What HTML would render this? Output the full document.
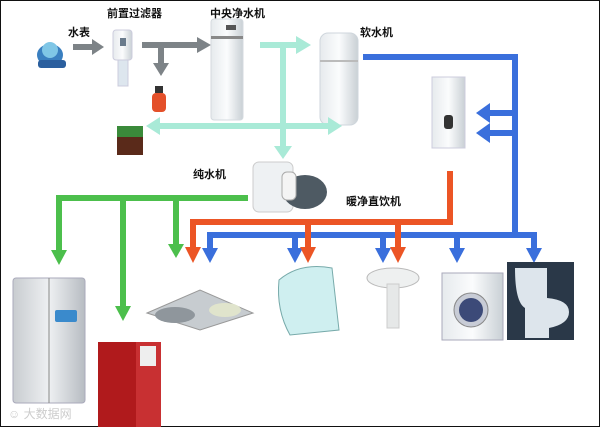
<!DOCTYPE html>
<html><head><meta charset="utf-8"><style>
html,body{margin:0;padding:0;background:#fff}
svg{display:block}
text{font-family:"Liberation Sans","Noto Sans CJK SC",sans-serif;font-size:11px;fill:#111;font-weight:bold}
</style></head><body>
<svg width="600" height="427" viewBox="0 0 600 427" xmlns="http://www.w3.org/2000/svg">
<defs>
<linearGradient id="wg" x1="0" x2="1"><stop offset="0" stop-color="#e6eaed"/><stop offset=".5" stop-color="#fbfcfd"/><stop offset="1" stop-color="#c9d0d5"/></linearGradient>
<linearGradient id="fg" x1="0" x2="1"><stop offset="0" stop-color="#c8ccd0"/><stop offset=".5" stop-color="#eef0f2"/><stop offset="1" stop-color="#b7bcc2"/></linearGradient>
<g id="bd"><rect x="-3" y="235" width="6" height="14"/><polygon points="-8,248 8,248 0,263"/></g>
<g id="rd"><rect x="-3" y="222" width="6" height="26"/><polygon points="-8,247 8,247 0,263"/></g>
</defs>
<rect x="0" y="0" width="600" height="427" fill="#fff" stroke="#111" stroke-width="2"/>

<text x="68" y="36">水表</text>
<text x="107" y="17">前置过滤器</text>
<text x="210" y="17">中央净水机</text>
<text x="360" y="36">软水机</text>
<text x="193" y="178">纯水机</text>
<text x="346" y="205">暖净直饮机</text>

<ellipse cx="50" cy="55" rx="13" ry="11" fill="#3a7fc0"/>
<circle cx="50" cy="50" r="8" fill="#7fc6e6"/>
<rect x="38" y="60" width="28" height="8" rx="3" fill="#2b5f9e"/>

<g fill="#7d8387">
<rect x="73" y="44" width="20" height="6"/><polygon points="92,39 104,47 92,55"/>
<rect x="142" y="42" width="56" height="6"/><polygon points="197,37 211,45 197,53"/>
<rect x="158" y="44" width="6" height="20"/><polygon points="153,63 169,63 161,76"/>
</g>
<rect x="113" y="30" width="19" height="30" rx="3" fill="url(#wg)" stroke="#ccd"/>
<rect x="118" y="60" width="10" height="26" fill="#dde6ee" stroke="#ccd"/>
<rect x="120" y="38" width="6" height="8" fill="#6a7b8c"/>
<rect x="152" y="93" width="14" height="19" rx="4" fill="#e4502a"/>
<rect x="155" y="86" width="8" height="7" fill="#333"/>

<rect x="211" y="19" width="32" height="101" rx="3" fill="url(#wg)" stroke="#d4dadf"/>
<rect x="211" y="36" width="32" height="3" fill="#888"/>
<rect x="226" y="25" width="10" height="5" fill="#555"/>
<rect x="320" y="33" width="38" height="92" rx="8" fill="url(#wg)" stroke="#cfd6dc"/>
<rect x="320" y="60" width="38" height="2" fill="#bbb"/>

<g fill="#a9ead7">
<rect x="260" y="42" width="38" height="6"/><polygon points="296,36 311,45 296,54"/>
<rect x="280" y="42" width="6" height="106"/><polygon points="274,146 292,146 283,159"/>
<rect x="157" y="123" width="174" height="6"/>
<polygon points="160,117 146,126 160,135"/><polygon points="328,117 342,126 328,135"/>
</g>
<rect x="117" y="126" width="26" height="11" fill="#3a8a3a"/>
<rect x="117" y="137" width="26" height="18" fill="#5a2a1a"/>

<rect x="432" y="77" width="33" height="71" fill="url(#wg)" stroke="#ccd"/>
<rect x="444" y="115" width="9" height="14" rx="3" fill="#333"/>

<rect x="253" y="162" width="40" height="50" rx="6" fill="#eef1f3" stroke="#ccc"/>
<ellipse cx="305" cy="192" rx="22" ry="17" fill="#4e5a63"/>
<rect x="282" y="172" width="14" height="28" rx="5" fill="#f4f4f4" stroke="#aaa"/>

<g fill="#3a6fdc">
<rect x="363" y="54" width="155" height="6"/>
<rect x="512" y="54" width="6" height="184"/>
<rect x="207" y="232" width="330" height="6"/>
<rect x="488" y="110" width="27" height="6"/><polygon points="490,103 476,113 490,123"/>
<rect x="488" y="130" width="27" height="6"/><polygon points="490,123 476,133 490,143"/>
<use href="#bd" x="210"/><use href="#bd" x="295"/><use href="#bd" x="383"/><use href="#bd" x="457"/><use href="#bd" x="534"/>
</g>
<g fill="#ec5525">
<rect x="447" y="171" width="6" height="54"/>
<rect x="190" y="219" width="263" height="6"/>
<use href="#rd" x="193"/><use href="#rd" x="308"/><use href="#rd" x="398"/>
</g>
<g fill="#4cbf4c">
<rect x="56" y="195" width="192" height="6"/>
<rect x="56" y="195" width="6" height="56"/><polygon points="51,250 67,250 59,265"/>
<rect x="120" y="195" width="6" height="112"/><polygon points="115,306 131,306 123,321"/>
<rect x="173" y="195" width="6" height="50"/><polygon points="168,244 184,244 176,258"/>
</g>

<rect x="13" y="278" width="72" height="125" rx="3" fill="url(#fg)" stroke="#aab"/>
<line x1="49" y1="278" x2="49" y2="403" stroke="#888"/>
<rect x="55" y="310" width="22" height="12" rx="2" fill="#3a8acc"/>
<rect x="98" y="342" width="63" height="85" fill="#b01a1c"/>
<rect x="136" y="342" width="25" height="85" fill="#c83032"/>
<rect x="140" y="346" width="16" height="20" fill="#eee"/>
<polygon points="147,313 200,290 253,313 200,330" fill="#c7ccd0" stroke="#999"/>
<ellipse cx="175" cy="315" rx="20" ry="8" fill="#8f969c"/>
<ellipse cx="225" cy="310" rx="16" ry="7" fill="#e0e4cc"/>
<path d="M279 280 Q300 262 332 268 L339 330 L290 335 Q276 310 279 280Z" fill="#cfeff0" stroke="#7aa"/>
<ellipse cx="393" cy="278" rx="26" ry="10" fill="#eef0f0" stroke="#bbb"/>
<rect x="387" y="284" width="12" height="44" fill="#e6e8e8" stroke="#ccc"/>
<rect x="442" y="273" width="61" height="67" fill="url(#wg)" stroke="#aab"/>
<circle cx="471" cy="310" r="17" fill="#c8ccd6" stroke="#888"/>
<circle cx="471" cy="310" r="12" fill="#3c4a78"/>
<rect x="507" y="262" width="67" height="78" fill="#2a3848"/>
<path d="M515 268 h32 v30 q22 2 22 14 q0 12 -20 16 l0 10 h-24 l0 -30 q-10 -6 -10 -40z" fill="#dde5ec"/>

<text x="8" y="418" style="fill:#ccc;font-size:12px;font-weight:normal">☺ 大数据网</text>
</svg>
</body></html>
